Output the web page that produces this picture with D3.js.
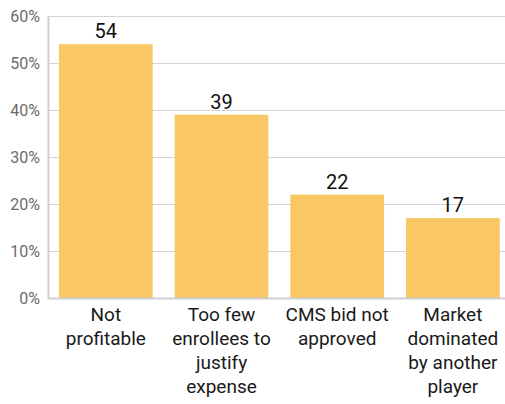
<!DOCTYPE html>
<html>
<head>
<meta charset="utf-8">
<script src="https://cdn.jsdelivr.net/npm/d3@7"></script>
<style>
  html, body { margin: 0; padding: 0; background: #fff; }
  svg { display: block; }
  .cat { font-family: "Roboto", sans-serif; }
</style>
</head>
<body>
<svg id="chart" width="505" height="404"></svg>
<script>
// Reasons for leaving the market, share of respondents
const categories = [
  ["Not", "profitable"],
  ["Too few", "enrollees to", "justify", "expense"],
  ["CMS bid not", "approved"],
  ["Market", "dominated", "by another", "player"]
];
const values = [54, 39, 22, 17];
const yTicks = [0, 10, 20, 30, 40, 50, 60];

const W = 505, H = 404;
const margin = { left: 48, top: 16, bottom: 106 };
const plotBottom = H - margin.bottom; // 298

const svg = d3.select("#chart");

const x = d3.scaleBand()
  .domain(d3.range(values.length))
  .range([margin.left, margin.left + 462.7])
  .paddingInner(0.19)
  .paddingOuter(0.095);

const y = d3.scaleLinear().domain([0, 60]).range([plotBottom, margin.top]);

// horizontal gridlines
svg.append("g")
  .selectAll("line")
  .data(yTicks.filter(d => d > 0))
  .join("line")
  .attr("x1", margin.left).attr("x2", W)
  .attr("y1", d => y(d) + 0.5).attr("y2", d => y(d) + 0.5)
  .attr("stroke", "#d4d4d4").attr("stroke-width", 1);

// y axis labels
const yAxis = d3.axisLeft(y).tickValues(yTicks).tickFormat(d => d + "%").tickSize(0).tickPadding(8);
const gy = svg.append("g").attr("transform", `translate(${margin.left},0)`).call(yAxis);
gy.select(".domain").remove();
gy.selectAll("text")
  .attr("font-family", "Roboto, sans-serif")
  .attr("font-size", 16)
  .attr("fill", "#6b6b6b");

// bars
svg.append("g")
  .selectAll("rect")
  .data(values)
  .join("rect")
  .attr("x", (d, i) => x(i))
  .attr("y", d => y(d))
  .attr("width", x.bandwidth())
  .attr("height", d => y(0) - y(d))
  .attr("fill", "#f9c764");

// axis lines
svg.append("line")
  .attr("x1", margin.left + 0.5).attr("x2", margin.left + 0.5)
  .attr("y1", margin.top).attr("y2", plotBottom + 1)
  .attr("stroke", "#cfcfcf").attr("stroke-width", 2);
svg.append("line")
  .attr("x1", margin.left).attr("x2", W)
  .attr("y1", plotBottom + 0.5).attr("y2", plotBottom + 0.5)
  .attr("stroke", "#cfcfcf").attr("stroke-width", 2);

// value labels
svg.append("g")
  .selectAll("text")
  .data(values)
  .join("text")
  .attr("x", (d, i) => x(i) + x.bandwidth() / 2)
  .attr("y", d => y(d) - 6)
  .attr("text-anchor", "middle")
  .attr("font-family", "Roboto, sans-serif")
  .attr("font-size", 20)
  .attr("fill", "#111")
  .text(d => d);

// category labels
const cat = svg.append("g").attr("class", "cat");
categories.forEach((lines, i) => {
  const t = cat.append("text")
    .attr("x", x(i) + x.bandwidth() / 2)
    .attr("y", plotBottom + 23)
    .attr("text-anchor", "middle")
    .attr("font-size", 19)
    .attr("fill", "#1a1a1a");
  lines.forEach((ln, j) => {
    t.append("tspan")
      .attr("x", x(i) + x.bandwidth() / 2)
      .attr("dy", j === 0 ? 0 : 24)
      .text(ln);
  });
});
</script>
</body>
</html>
